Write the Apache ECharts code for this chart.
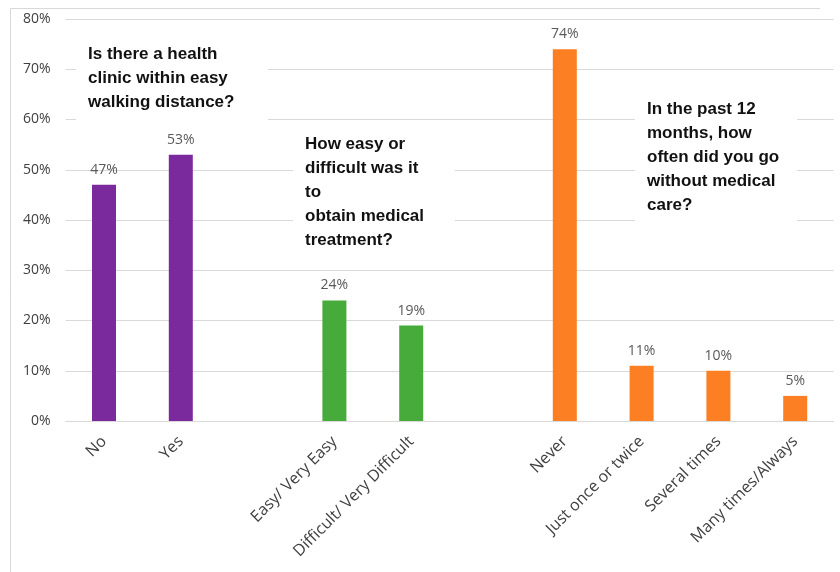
<!DOCTYPE html>
<html>
<head>
<meta charset="utf-8">
<script src="https://cdn.jsdelivr.net/npm/echarts@6/dist/echarts.min.js"></script>
<style>html,body{margin:0;padding:0;background:#fff}#c{width:840px;height:572px}</style>
</head>
<body>
<div id="c"></div>
<script>
var categories = ['No', 'Yes', ' ', 'Easy/ Very Easy', 'Difficult/ Very Difficult', '  ', 'Never', 'Just once or twice', 'Several times', 'Many times/Always'];
var values = [47, 53, null, 24, 19, null, 74, 11, 10, 5];
var groups = ['clinic', 'clinic', null, 'ease', 'ease', null, 'without', 'without', 'without', 'without'];
var yTicks = [0, 10, 20, 30, 40, 50, 60, 70, 80];
var questions = {
  clinic: 'Is there a health\nclinic within easy\nwalking distance?',
  ease: 'How easy or\ndifficult was it\nto\nobtain medical\ntreatment?',
  without: 'In the past 12\nmonths, how\noften did you go\nwithout medical\ncare?'
};
var groupColors = { clinic: '#7B2A9E', ease: '#46AB3A', without: '#FD7F23' };

var chart = echarts.init(document.getElementById('c'));
var data = values.map(function (v, i) {
  if (v === null) return '-';
  return { value: v, itemStyle: { color: groupColors[groups[i]] } };
});

function note(text, x, y, w, h, ty) {
  return {
    type: 'group', left: x, top: y, z: 100,
    children: [
      { type: 'rect', z: 100, shape: { x: 0, y: 0, width: w, height: h }, style: { fill: '#fff' } },
      { type: 'text', z: 101, x: 12, y: ty, style: { text: text, font: 'bold 17px "Liberation Sans", Arial, sans-serif', fill: '#111', lineHeight: 24 } }
    ]
  };
}

chart.setOption({
  animation: false,
  grid: { left: 65.6, right: 6.4, top: 19, bottom: 151 },
  xAxis: {
    type: 'category',
    data: categories,
    axisTick: { show: false },
    axisLine: { show: true, lineStyle: { color: '#d9d9d9', width: 1 } },
    axisLabel: { interval: 0, rotate: 45, fontSize: 16, color: '#404040', margin: 18, fontFamily: '"Open Sans", sans-serif' }
  },
  yAxis: {
    type: 'value',
    min: yTicks[0], max: yTicks[yTicks.length - 1], interval: 10,
    axisLine: { show: false },
    axisTick: { show: false },
    splitLine: { lineStyle: { color: '#d9d9d9', width: 1 } },
    axisLabel: { formatter: '{value}%', fontSize: 14, color: '#404040', margin: 15, fontFamily: '"Open Sans", sans-serif' }
  },
  series: [{
    type: 'bar',
    data: data,
    barWidth: 24,
    label: { show: true, position: 'top', distance: 8, formatter: '{c}%', fontSize: 14, color: '#595959', fontFamily: '"Open Sans", sans-serif' }
  }],
  graphic: [
    { type: 'line', shape: { x1: 10.5, y1: 8.5, x2: 10.5, y2: 572 }, style: { stroke: '#d9d9d9', lineWidth: 1 } },
    { type: 'line', shape: { x1: 10.5, y1: 8.5, x2: 820, y2: 8.5 }, style: { stroke: '#d9d9d9', lineWidth: 1 } },
    note(questions.clinic, 76, 38, 192, 90, 4),
    note(questions.ease, 293, 128, 162, 134, 4),
    note(questions.without, 635, 93, 162, 132, 4)
  ]
});
</script>
</body>
</html>
